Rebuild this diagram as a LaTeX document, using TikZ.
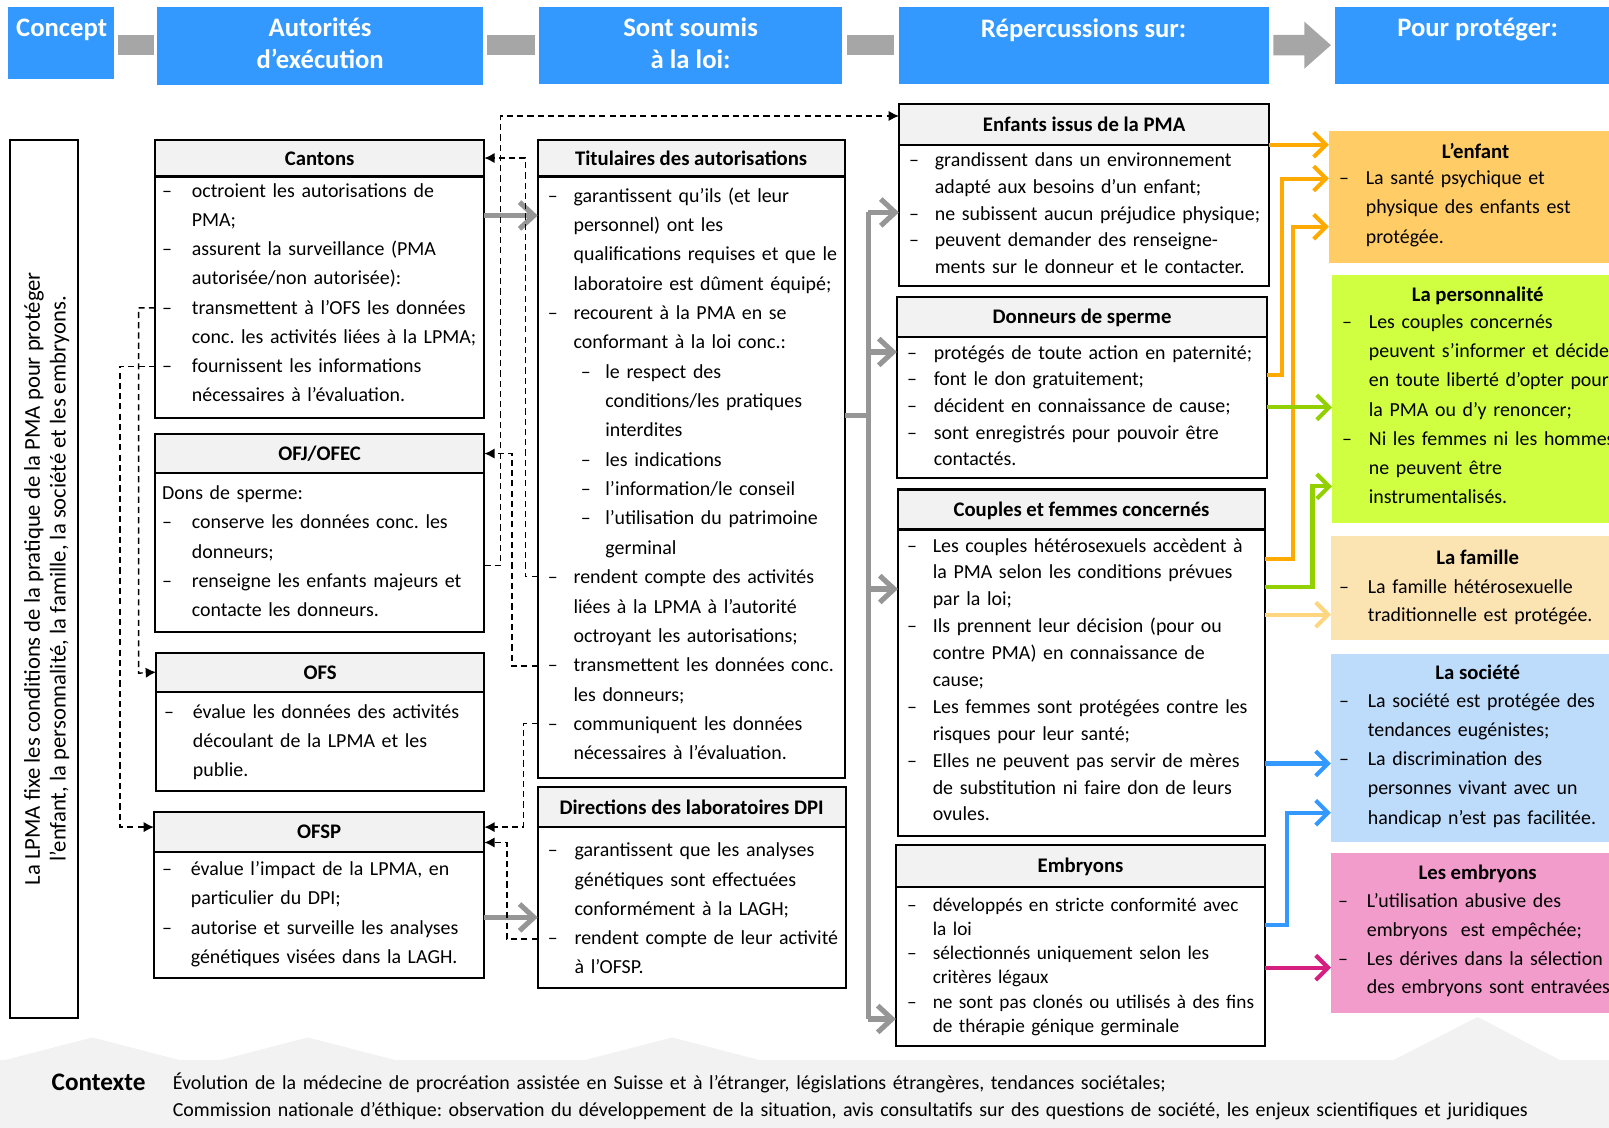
\documentclass[tikz,border=0pt]{standalone}
\usepackage{fontspec}
\setmainfont{Carlito}
\usetikzlibrary{arrows.meta}
\frenchspacing
\definecolor{hblue}{RGB}{51,153,255}
\definecolor{hgray}{RGB}{166,166,166}
\definecolor{garrow}{RGB}{150,150,150}
\definecolor{hdrfill}{RGB}{242,242,242}
\definecolor{cyel}{RGB}{255,204,102}
\definecolor{clime}{RGB}{207,255,64}
\definecolor{cpeach}{RGB}{252,228,178}
\definecolor{csky}{RGB}{189,219,250}
\definecolor{cpink}{RGB}{242,156,204}
\definecolor{aorange}{RGB}{255,170,0}
\definecolor{agreen}{RGB}{146,208,0}
\definecolor{alorange}{RGB}{255,214,128}
\definecolor{ablue}{RGB}{51,153,255}
\definecolor{amag}{RGB}{214,30,128}
\definecolor{cband}{RGB}{242,242,242}
\newlength\dashw
\newcommand\dsh{\makebox[\dashw][l]{–}}
\newcommand\ind{\hspace*{\dashw}}
\newcommand\sdsh{\hspace*{\dashw}\hspace*{3.5pt}\makebox[12pt][l]{–}}
\newcommand\sind{\hspace*{\dashw}\hspace*{15.5pt}}
\newcommand\mkbox[7]{%
 \pgfmathsetmacro\bw{(#5-#2)*0.5}%
 \pgfmathsetmacro\hh{(#4-#3)*0.5}%
 \pgfmathsetmacro\bh{(#6-#4)*0.5}%
 \node[hbx, minimum width=\bw pt, minimum height=\hh pt, anchor=north west] (#1h) at (#2,#3) {};
 \node[bbx, minimum width=\bw pt, minimum height=\bh pt, anchor=north west] (#1) at (#2,#4) {};
 \node[ttl] (#1t) at (#1h.center) {#7};
}
\newcommand\btx[6]{%
 \node[btxt, font=\fontsize{9.7}{#4}\selectfont] (#1) at (#2,#3+2) {\setlength\dashw{#5}#6};
}
\tikzset{
 hdr/.style={fill=hblue, inner sep=0, outer sep=0, anchor=north west},
 htxt/.style={text=white, font=\bfseries\fontsize{13}{15.5}\selectfont, align=center, inner sep=0},
 hbx/.style={draw, line width=1pt, fill=hdrfill, inner sep=0, outer sep=0},
 bbx/.style={draw, line width=1pt, fill=white, inner sep=0, outer sep=0},
 ttl/.style={font=\bfseries\fontsize{10.1}{12}\selectfont, inner sep=0, text height=8pt, text depth=1pt},
 btxt/.style={anchor=base west, inner sep=0, outer sep=0, align=left, text width=260pt},
 rb/.style={inner sep=0, outer sep=0, anchor=north west},
 garr/.style={draw=garrow, line width=2.5pt, -{Straight Barb[length=7pt,width=13pt]}},
 gline/.style={draw=garrow, line width=2.5pt},
 carr/.style={draw=#1, line width=2pt, -{Straight Barb[length=6pt,width=12pt]}},
 darr/.style={draw=black, line width=0.7pt, dash pattern=on 3pt off 2pt, -{Latex[length=5pt,width=5pt]}}
}
\begin{document}
\begin{tikzpicture}[x=0.5pt,y=-0.5pt]
\useasboundingbox (0,0) rectangle (1568,1099);
\clip (0,0) rectangle (1568,1099);
% context band
\fill[cband] (0,1033) -- (5,1033) -- (90,1011) -- (175,1033) -- (215,1033) -- (300,1011) -- (385,1033) -- (570,1033) -- (655,1011) -- (740,1033) -- (1358,1033) -- (1440,991) -- (1520,1033) -- (1568,1033) -- (1568,1099) -- (0,1099) -- cycle;
\node[anchor=base west, inner sep=0, font=\bfseries\fontsize{12.3}{13}\selectfont] (ctxlabel) at (50,1063) {Contexte};
\node[anchor=base west, inner sep=0, align=left, text width=720pt, font=\fontsize{9.7}{13}\selectfont] (ctxtext) at (168,1062) {Évolution de la médecine de procréation assistée en Suisse et à l’étranger, législations étrangères, tendances sociétales;\\Commission nationale d’éthique: observation du développement de la situation, avis consultatifs sur des questions de société, les enjeux scientifiques et juridiques};

% header row
\node[hdr, minimum width=51.5pt, minimum height=35pt] (hconcept) at (8,7) {};
\node[hdr, minimum width=159pt, minimum height=38pt] (hautor) at (153,7) {};
\node[hdr, minimum width=148pt, minimum height=37.5pt] (hsont) at (525,7) {};
\node[hdr, minimum width=180.5pt, minimum height=37.5pt] (hrep) at (876,7) {};
\node[hdr, minimum width=140pt, minimum height=37.5pt] (hpour) at (1301,7) {};
\node[htxt] (tconcept) at (60,29) {Concept};
\node[htxt] (tautor) at (312,42.5) {Autorités\\d’exécution};
\node[htxt] (tsont) at (673,42.5) {Sont soumis\\à la loi:};
\node[htxt] (trep) at (1056,29) {Répercussions sur:};
\node[htxt] (tpour) at (1440,29) {Pour protéger:};
\fill[hgray] (115,34) rectangle (150,54);
\fill[hgray] (475,34) rectangle (521,54);
\fill[hgray] (825,34) rectangle (871,54);
\fill[hgray] (1241,34) -- (1271,34) -- (1271,21) -- (1297,44) -- (1271,67) -- (1271,54) -- (1241,54) -- cycle;

% concept box
\node[draw, line width=1pt, inner sep=0, outer sep=0, minimum width=33pt, minimum height=428pt, anchor=north west] (conceptbox) at (10,136) {};
\node[rotate=90, inner sep=0, align=center, font=\fontsize{11.05}{12.5}\selectfont] (concepttxt) at (45.5,564) {La LPMA fixe les conditions de la pratique de la PMA pour protéger\\l’enfant, la personnalité, la famille, la société et les embryons.};

% boxes
\mkbox{cantons}{151}{136}{172}{472}{407}{Cantons}
\mkbox{ofj}{151}{423}{461}{472}{616}{OFJ/OFEC}
\mkbox{ofs}{152}{636}{674}{472}{771}{OFS}
\mkbox{ofsp}{150}{791}{830}{472}{953}{OFSP}
\mkbox{tit}{524}{136}{172}{823}{758}{Titulaires des autorisations}
\mkbox{dir}{524}{767}{806}{824}{963}{Directions des laboratoires DPI}
\mkbox{enf}{876}{101}{141}{1237}{279}{Enfants issus de la PMA}
\mkbox{don}{874}{289}{328}{1235}{466}{Donneurs de sperme}
\mkbox{cou}{875}{477}{516}{1233}{815}{Couples et femmes concernés}
\mkbox{emb}{873}{823}{864}{1233}{1019}{Embryons}

\btx{cantonsx}{158}{190}{14.25pt}{14.5pt}{\dsh octroient les autorisations de\\
\ind PMA;\\
\dsh assurent la surveillance (PMA\\
\ind autorisée/non autorisée):\\
\dsh transmettent à l’OFS les données\\
\ind conc. les activités liées à la LPMA;\\
\dsh fournissent les informations\\
\ind nécessaires à l’évaluation.}
\btx{ofjx}{158}{485}{14.25pt}{14.5pt}{Dons de sperme:\\
\dsh conserve les données conc. les\\
\ind donneurs;\\
\dsh renseigne les enfants majeurs et\\
\ind contacte les donneurs.}
\btx{ofsx}{160}{698}{14.25pt}{14pt}{\dsh évalue les données des activités\\
\ind découlant de la LPMA et les\\
\ind publie.}
\btx{ofspx}{158}{851}{14.35pt}{14pt}{\dsh évalue l’impact de la LPMA, en\\
\ind particulier du DPI;\\
\dsh autorise et surveille les analyses\\
\ind génétiques visées dans la LAGH.}
\btx{titx}{534}{195}{14.3pt}{12.5pt}{\dsh garantissent qu’ils (et leur\\
\ind personnel) ont les\\
\ind qualifications requises et que le\\
\ind laboratoire est dûment équipé;\\
\dsh recourent à la PMA en se\\
\ind conformant à la loi conc.:\\
\sdsh le respect des\\
\sind conditions/les pratiques\\
\sind interdites\\
\sdsh les indications\\
\sdsh l’information/le conseil\\
\sdsh l’utilisation du patrimoine\\
\sind germinal\\
\dsh rendent compte des activités\\
\ind liées à la LPMA à l’autorité\\
\ind octroyant les autorisations;\\
\dsh transmettent les données conc.\\
\ind les donneurs;\\
\dsh communiquent les données\\
\ind nécessaires à l’évaluation.}
\btx{dirx}{534}{833}{14.25pt}{13pt}{\dsh garantissent que les analyses\\
\ind génétiques sont effectuées\\
\ind conformément à la LAGH;\\
\dsh rendent compte de leur activité\\
\ind à l’OFSP.}
\btx{enfx}{886}{160}{13.1pt}{12.5pt}{\dsh grandissent dans un environnement\\
\ind adapté aux besoins d’un enfant;\\
\dsh ne subissent aucun préjudice physique;\\
\dsh peuvent demander des renseigne-\\
\ind ments sur le donneur et le contacter.}
\btx{donx}{884}{348}{13pt}{13pt}{\dsh protégés de toute action en paternité;\\
\dsh font le don gratuitement;\\
\dsh décident en connaissance de cause;\\
\dsh sont enregistrés pour pouvoir être\\
\ind contactés.}
\btx{coux}{884}{536}{13.1pt}{12.5pt}{\dsh Les couples hétérosexuels accèdent à\\
\ind la PMA selon les conditions prévues\\
\ind par la loi;\\
\dsh Ils prennent leur décision (pour ou\\
\ind contre PMA) en connaissance de\\
\ind cause;\\
\dsh Les femmes sont protégées contre les\\
\ind risques pour leur santé;\\
\dsh Elles ne peuvent pas servir de mères\\
\ind de substitution ni faire don de leurs\\
\ind ovules.}
\node[btxt, font=\fontsize{9.4}{11.8}\selectfont] (embx) at (884,888) {\setlength\dashw{12.5pt}\dsh développés en stricte conformité avec\\
\ind la loi\\
\dsh sélectionnés uniquement selon les\\
\ind critères légaux\\
\dsh ne sont pas clonés ou utilisés à des fins\\
\ind de thérapie génique germinale};

% right boxes
\node[rb, fill=cyel, minimum width=152.5pt, minimum height=64pt] (renf) at (1295,128) {};
\node[rb, fill=clime, minimum width=151pt, minimum height=121pt] (rper) at (1298,268) {};
\node[rb, fill=cpeach, minimum width=151.5pt, minimum height=51pt] (rfam) at (1297,522) {};
\node[rb, fill=csky, minimum width=151.5pt, minimum height=92pt] (rsoc) at (1297,637) {};
\node[rb, fill=cpink, minimum width=151.5pt, minimum height=78pt] (remb) at (1297,831) {};
\node[ttl] (renft) at (1438,147) {L’enfant};
\node[ttl] (rpert) at (1440,287) {La personnalité};
\node[ttl] (rfamt) at (1440,543) {La famille};
\node[ttl] (rsoct) at (1440,655) {La société};
\node[ttl] (rembt) at (1440,850) {Les embryons};
\btx{renfx}{1305}{178}{14.25pt}{13pt}{\dsh La santé psychique et\\
\ind physique des enfants est\\
\ind protégée.}
\btx{rperx}{1308}{318}{14.25pt}{13pt}{\dsh Les couples concernés\\
\ind peuvent s’informer et décider\\
\ind en toute liberté d’opter pour\\
\ind la PMA ou d’y renoncer;\\
\dsh Ni les femmes ni les hommes\\
\ind ne peuvent être\\
\ind instrumentalisés.}
\btx{rfamx}{1305}{576}{14pt}{14pt}{\dsh La famille hétérosexuelle\\
\ind traditionnelle est protégée.}
\btx{rsocx}{1305}{687}{14.25pt}{14pt}{\dsh La société est protégée des\\
\ind tendances eugénistes;\\
\dsh La discrimination des\\
\ind personnes vivant avec un\\
\ind handicap n’est pas facilitée.}
\btx{rembx}{1304}{882}{14.1pt}{14pt}{\dsh L’utilisation abusive des\\
\ind embryons\ \ est empêchée;\\
\dsh Les dérives dans la sélection\\
\ind des embryons sont entravées.}

% gray arrows
\draw[garr] (cantons.east |- 0,210) -- (tit.west |- 0,210);
\draw[garr] (ofsp.east |- 0,894) -- (dir.west |- 0,894);
\draw[gline] (tit.east |- 0,405) -- (846,405);
\draw[gline] (846,207) -- (846,993);
\draw[garr] (846,207) -- (enf.west |- 0,207);
\draw[garr] (846,343) -- (don.west |- 0,343);
\draw[garr] (846,574) -- (cou.west |- 0,574);
\draw[garr] (846,993) -- (emb.west |- 0,993);

% dashed arrows
\draw[darr] (ofj.east |- 0,551) -- (488,551) -- (488,113) -- (enfh.west |- 0,113);
\draw[darr] (tit.west |- 0,562) -- (512,562) -- (512,154) -- (cantonsh.east);
\draw[darr] (tit.west |- 0,649) -- (499,649) -- (499,442) -- (ofjh.east);
\draw[darr] (tit.west |- 0,705) -- (510,705) -- (510,806) -- (ofsph.east |- 0,806);
\draw[darr] (dir.west |- 0,915) -- (494,915) -- (494,821) -- (ofsph.east |- 0,821);
\draw[darr] (cantons.west |- 0,300) -- (135,300) -- (135,656) -- (ofsh.west);
\draw[darr] (cantons.west |- 0,357) -- (117,357) -- (117,806) -- (ofsph.west |- 0,806);

% coloured arrows
\draw[carr=aorange] (enfh.south east) -- (renf.west |- enfh.south east);
\draw[carr=aorange] (don.east |- 0,365) -- (1249,365) -- (1249,174) -- (renf.west |- 0,174);
\draw[carr=aorange] (cou.east |- 0,545) -- (1260,545) -- (1260,221) -- (renf.west |- 0,221);
\draw[carr=agreen] (don.east |- 0,397) -- (rper.west |- 0,397);
\draw[carr=agreen] (cou.east |- 0,572) -- (1279,572) -- (1279,474) -- (rper.west |- 0,474);
\draw[carr=alorange] (cou.east |- 0,599) -- (rfam.west |- 0,599);
\draw[carr=ablue] (cou.east |- 0,744) -- (rsoc.west |- 0,744);
\draw[carr=ablue] (emb.east |- 0,901) -- (1254,901) -- (1254,792) -- (rsoc.west |- 0,792);
\draw[carr=amag] (emb.east |- 0,943) -- (remb.west |- 0,943);
\end{tikzpicture}
\end{document}
